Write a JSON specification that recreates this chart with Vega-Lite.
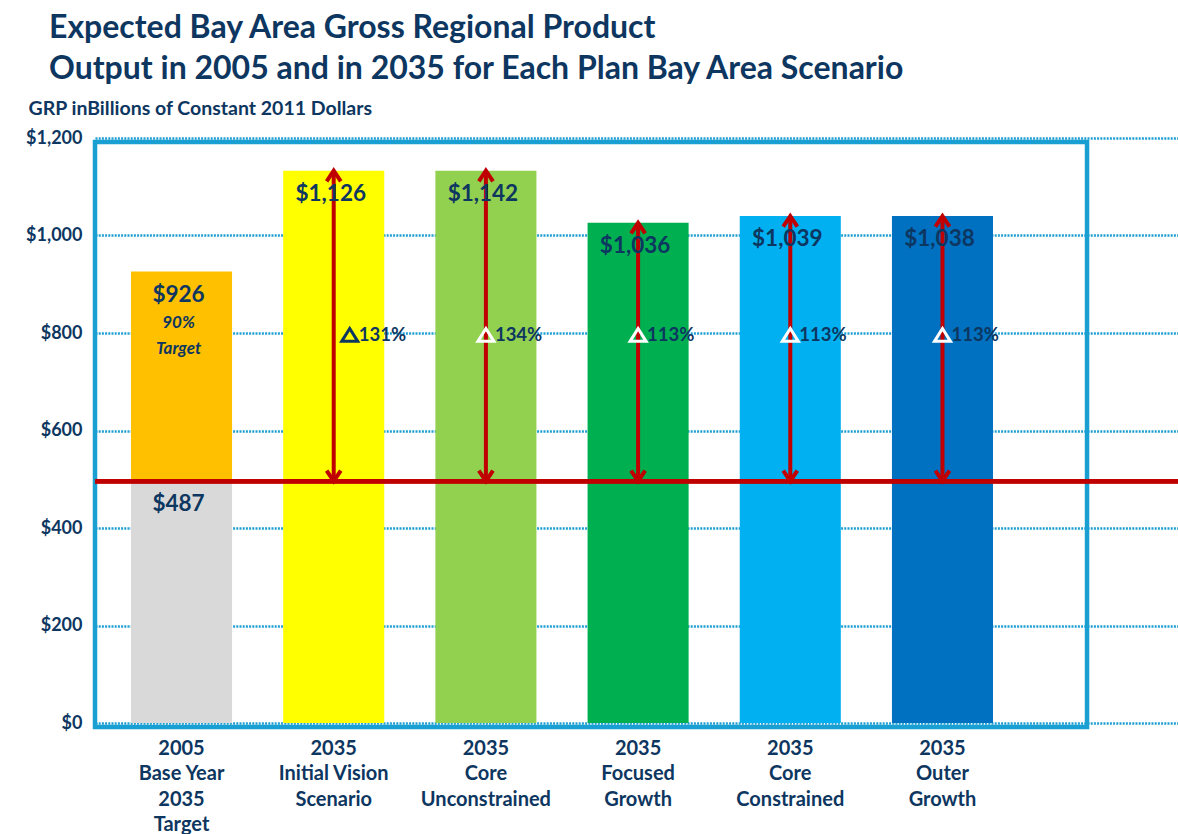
{
  "$schema": "https://vega.github.io/schema/vega-lite/v6.json",
  "width": 1083,
  "height": 585,
  "autosize": {"type": "none"},
  "padding": {"left": 95, "top": 138, "right": 0, "bottom": 111},
  "background": "white",
  "config": {"font": "Lato", "view": {"stroke": null}},
  "title": {
    "text": ["Expected Bay Area Gross Regional Product", "Output in 2005 and in 2035 for Each Plan Bay Area Scenario"],
    "anchor": "start",
    "frame": "group",
    "dx": -46,
    "offset": 12,
    "fontSize": 32,
    "font": "Lato",
    "fontWeight": "bold",
    "color": "#0d3660",
    "lineHeight": 41
  },
  "datasets": {
    "bars": [
      {"cat": "2005|Base Year|2035|Target", "part": "base", "lo": 0, "hi": 496, "label": "$487"},
      {"cat": "2005|Base Year|2035|Target", "part": "target", "lo": 496, "hi": 926, "label": "$926"},
      {"cat": "2035|Initial Vision|Scenario", "part": "iv", "lo": 0, "hi": 1133, "label": "$1,126", "pct": "131%"},
      {"cat": "2035|Core|Unconstrained", "part": "cu", "lo": 0, "hi": 1133, "label": "$1,142", "pct": "134%"},
      {"cat": "2035|Focused|Growth", "part": "fg", "lo": 0, "hi": 1026, "label": "$1,036", "pct": "113%"},
      {"cat": "2035|Core|Constrained", "part": "cc", "lo": 0, "hi": 1040, "label": "$1,039", "pct": "113%"},
      {"cat": "2035|Outer|Growth", "part": "og", "lo": 0, "hi": 1040, "label": "$1,038", "pct": "113%"}
    ]
  },
  "resolve": {"scale": {"x": "independent"}, "axis": {"x": "independent"}},
  "layer": [
    {
      "data": {"values": [{"frame": "box"}]},
      "mark": {"type": "rect", "fill": "transparent", "stroke": "#1a9fd3", "strokeWidth": 4.5},
      "encoding": {
        "x": {"datum": 0, "type": "quantitative", "scale": {"domain": [0, 1]}, "axis": null},
        "x2": {"datum": 0.916},
        "y": {"datum": -8, "type": "quantitative", "scale": {"domain": [0, 1200], "zero": true, "nice": false}},
        "y2": {"datum": 1192}
      }
    },
    {
      "data": {"name": "bars"},
      "encoding": {
        "x": {
          "field": "cat",
          "type": "nominal",
          "title": null,
          "scale": {
            "domain": ["2005|Base Year|2035|Target", "2035|Initial Vision|Scenario", "2035|Core|Unconstrained", "2035|Focused|Growth", "2035|Core|Constrained", "2035|Outer|Growth"],
            "range": [36, 898],
            "paddingInner": 0.336,
            "paddingOuter": 0
          },
          "axis": {
            "domain": false,
            "ticks": false,
            "labelAngle": 0,
            "labelExpr": "split(datum.label, '|')",
            "labelFont": "Lato",
            "labelFontSize": 20,
            "labelFontWeight": "bold",
            "labelColor": "#0d3660",
            "labelLineHeight": 25.5,
            "labelBaseline": "top",
            "labelPadding": 15,
            "labelLimit": 300
          }
        }
      },
      "layer": [
        {
          "mark": {"type": "bar"},
          "encoding": {
            "y": {
              "field": "lo",
              "type": "quantitative",
              "scale": {"domain": [0, 1200], "nice": false},
              "axis": {
                "values": [0, 200, 400, 600, 800, 1000, 1200],
                "format": "$,d",
                "domain": false,
                "ticks": false,
                "grid": true,
                "gridColor": "#1f9fd2",
                "gridDash": [2, 1.2],
                "gridWidth": 2.5,
                "labelFont": "Lato",
                "labelFontSize": 18,
                "labelFontWeight": "bold",
                "labelColor": "#0d3660",
                "labelPadding": 13,
                "title": "GRP inBillions of Constant 2011 Dollars",
                "titleAngle": 0,
                "titleAlign": "left",
                "titleBaseline": "alphabetic",
                "titleX": -67,
                "titleY": -24,
                "titleFont": "Lato",
                "titleFontSize": 19.5,
                "titleFontWeight": "bold",
                "titleColor": "#0d3660"
              }
            },
            "y2": {"field": "hi"},
            "color": {
              "field": "part",
              "type": "nominal",
              "legend": null,
              "scale": {
                "domain": ["base", "target", "iv", "cu", "fg", "cc", "og"],
                "range": ["#d9d9d9", "#ffc000", "#ffff00", "#92d050", "#00b050", "#00b0f0", "#0070c0"]
              }
            }
          }
        },
        {
          "mark": {"type": "rule", "stroke": "#c00000", "strokeWidth": 4},
          "encoding": {"y": {"datum": 496, "type": "quantitative"}, "x": null}
        },
        {
          "transform": [{"filter": "isValid(datum.pct)"}],
          "mark": {"type": "rule", "stroke": "#c00000", "strokeWidth": 4},
          "encoding": {"y": {"field": "hi", "type": "quantitative"}, "y2": {"datum": 496}}
        },
        {
          "transform": [{"filter": "isValid(datum.pct)"}],
          "mark": {"type": "point", "shape": "M-1,1.5L0,0L1,1.5", "filled": false, "stroke": "#c00000", "strokeWidth": 4, "size": 200, "opacity": 1},
          "encoding": {"y": {"field": "hi", "type": "quantitative"}}
        },
        {
          "transform": [{"filter": "isValid(datum.pct)"}],
          "mark": {"type": "point", "shape": "M-1,-1.5L0,0L1,-1.5", "filled": false, "stroke": "#c00000", "strokeWidth": 4, "size": 200, "opacity": 1},
          "encoding": {"y": {"datum": 496, "type": "quantitative"}}
        },
        {
          "transform": [{"filter": "isValid(datum.pct) && datum.part != 'iv'"}],
          "mark": {"type": "point", "shape": "M0,-0.8L1,0.8L-1,0.8Z", "filled": false, "stroke": "white", "strokeWidth": 3, "size": 256, "opacity": 1},
          "encoding": {"y": {"datum": 796, "type": "quantitative"}}
        },
        {
          "transform": [{"filter": "datum.part == 'iv'"}],
          "mark": {"type": "point", "shape": "M0,-0.8L1,0.8L-1,0.8Z", "filled": false, "stroke": "#0d3660", "strokeWidth": 3, "size": 256, "opacity": 1, "xOffset": 16},
          "encoding": {"y": {"datum": 796, "type": "quantitative"}}
        },
        {
          "transform": [{"filter": "isValid(datum.pct) && datum.part != 'iv'"}],
          "mark": {"type": "text", "align": "left", "baseline": "alphabetic", "dx": 9, "dy": 8, "fontSize": 18.5, "fontWeight": "bold", "color": "#0d3660"},
          "encoding": {"y": {"datum": 800, "type": "quantitative"}, "text": {"field": "pct"}}
        },
        {
          "transform": [{"filter": "datum.part == 'iv'"}],
          "mark": {"type": "text", "align": "left", "baseline": "alphabetic", "dx": 25, "dy": 8, "fontSize": 18.5, "fontWeight": "bold", "color": "#0d3660"},
          "encoding": {"y": {"datum": 800, "type": "quantitative"}, "text": {"field": "pct"}}
        },
        {
          "mark": {"type": "text", "align": "center", "baseline": "alphabetic", "dx": -3, "dy": 30, "fontSize": 22.5, "fontWeight": "bold", "color": "#0d3660"},
          "encoding": {"y": {"field": "hi", "type": "quantitative"}, "text": {"field": "label"}}
        },
        {
          "transform": [{"filter": "datum.part == 'target'"}],
          "mark": {"type": "text", "align": "center", "baseline": "alphabetic", "dx": -3, "dy": 56, "fontSize": 17, "fontWeight": "bold", "fontStyle": "italic", "lineHeight": 26, "color": "#0d3660", "text": ["90%", "Target"]},
          "encoding": {"y": {"field": "hi", "type": "quantitative"}}
        }
      ]
    }
  ]
}
